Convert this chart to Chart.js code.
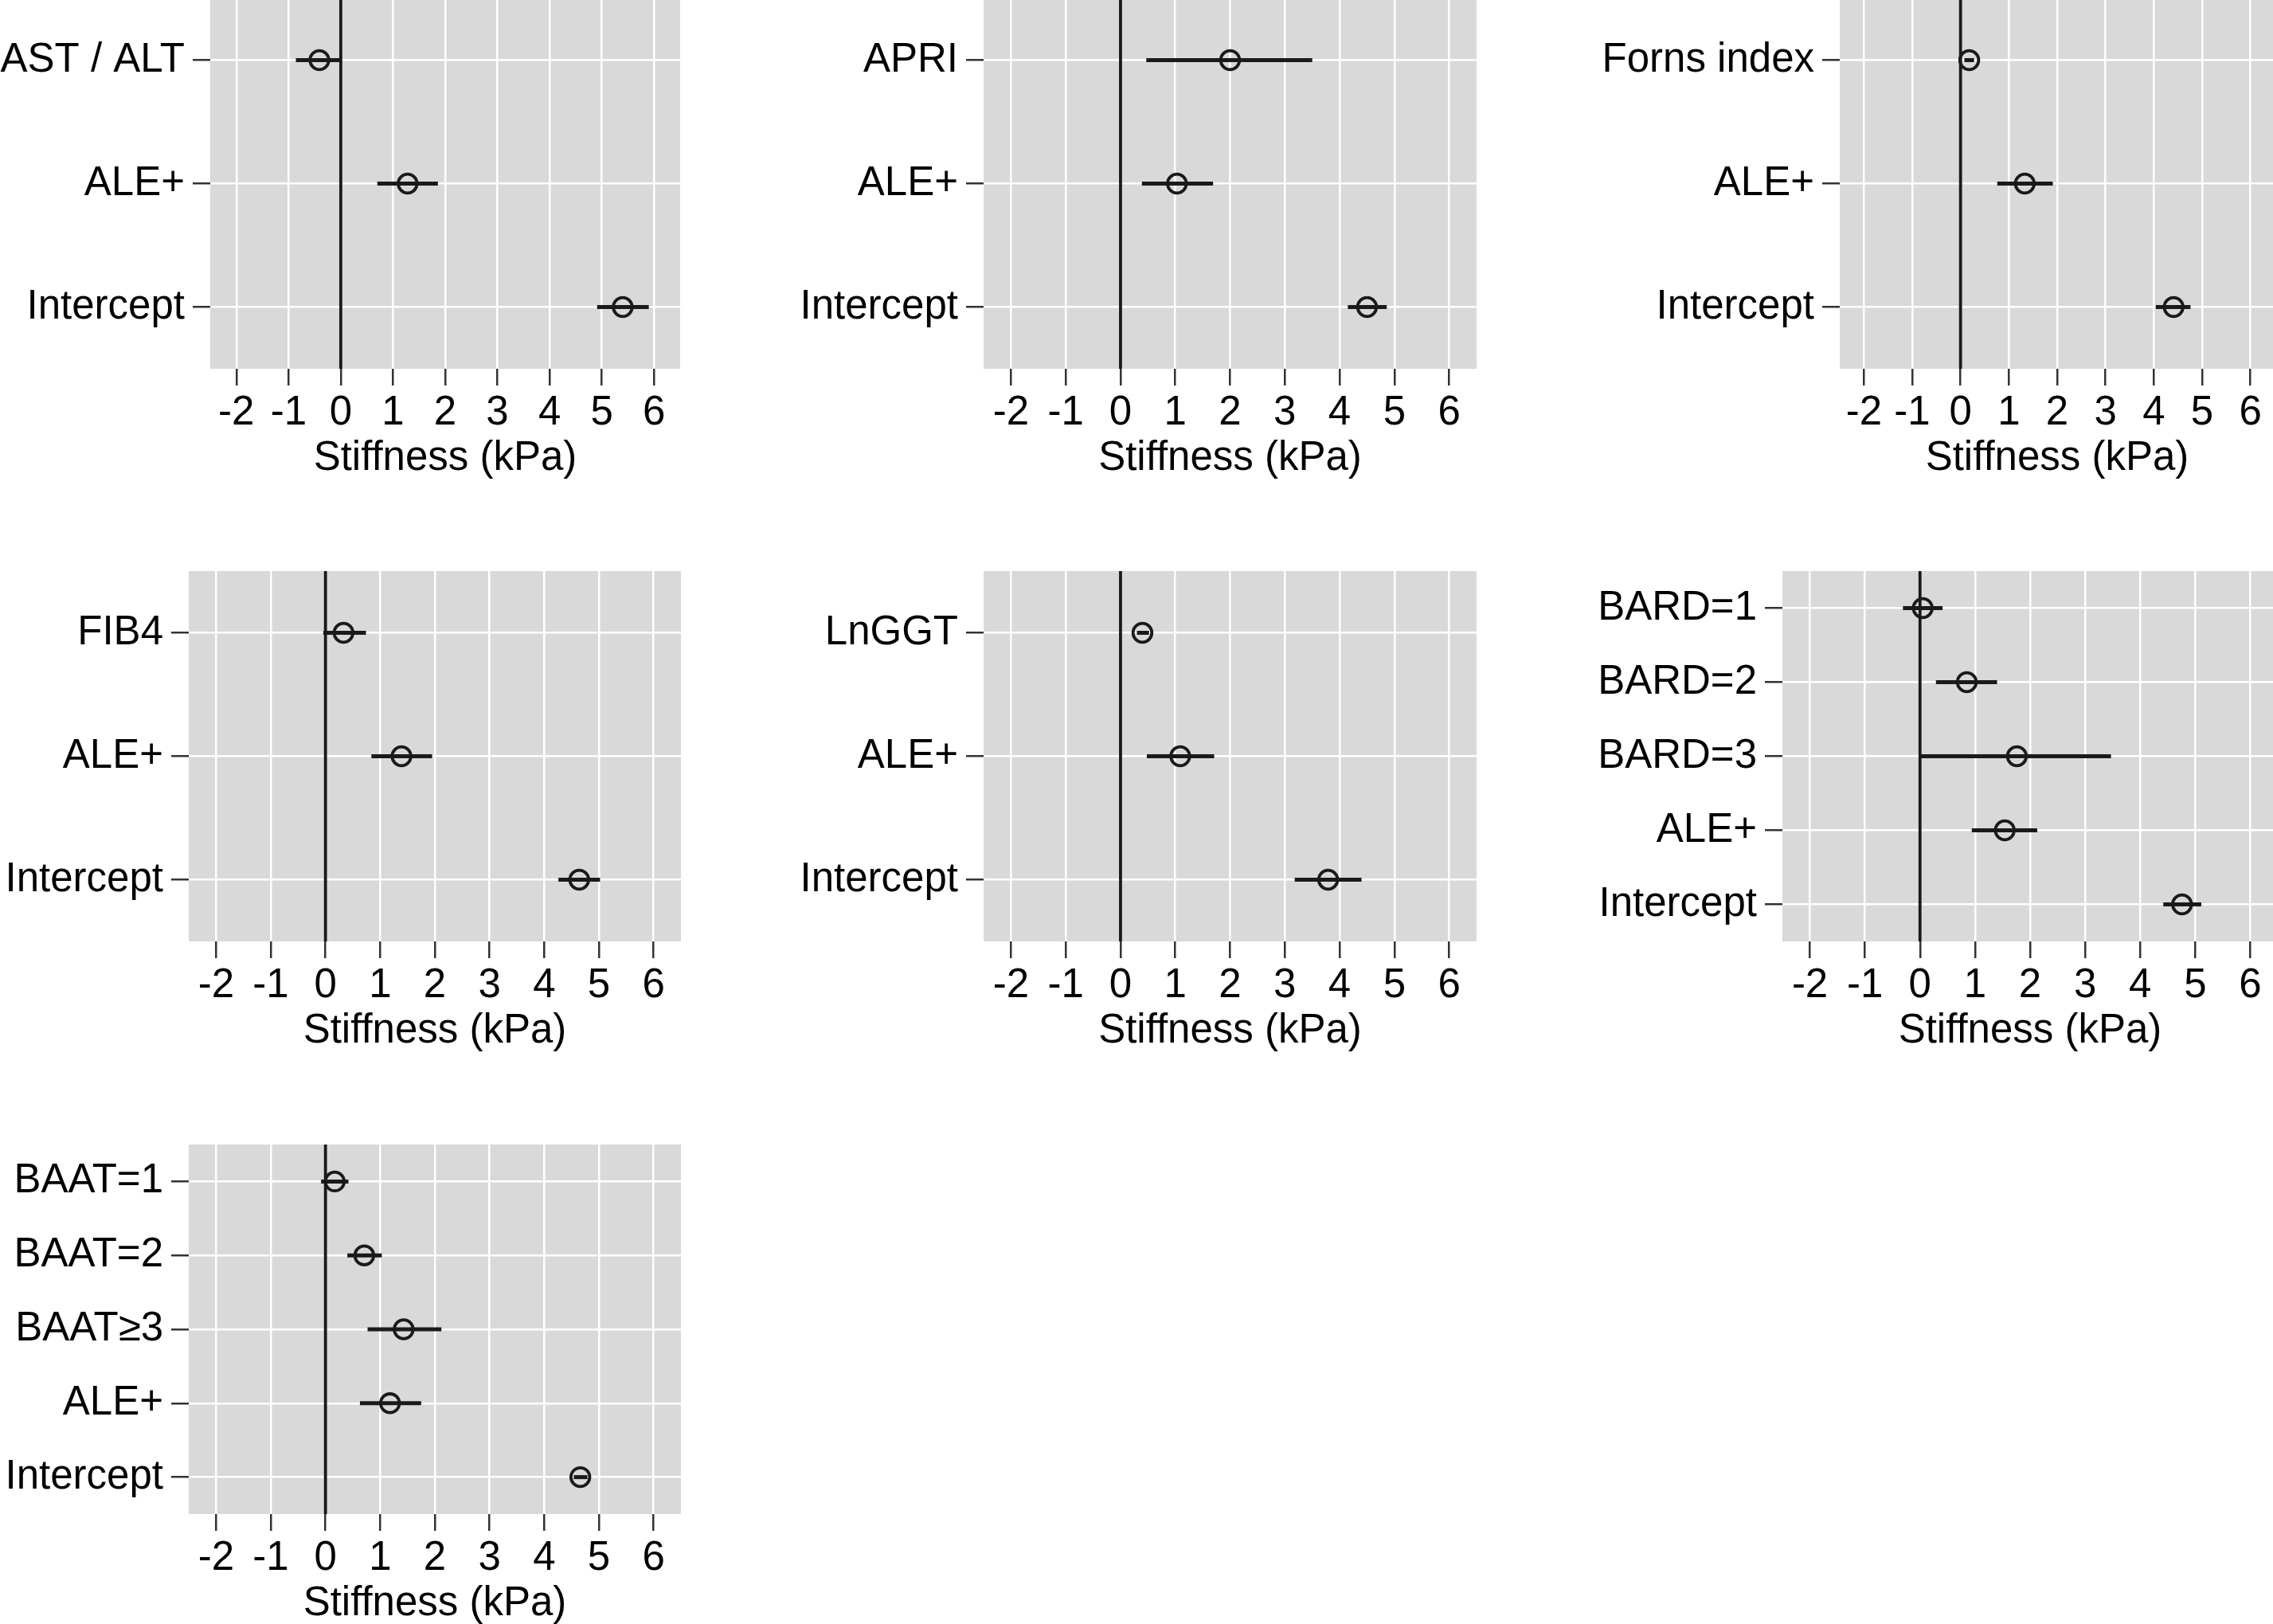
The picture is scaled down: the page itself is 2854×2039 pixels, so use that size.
<!DOCTYPE html>
<html>
<head>
<meta charset="utf-8">
<script src="https://cdn.jsdelivr.net/npm/chart.js@4.4.1/dist/chart.umd.min.js"></script>
<style>
html,body{margin:0;padding:0;background:#fff;width:2854px;height:2039px;overflow:hidden;position:relative}
canvas{position:absolute}
</style>
</head>
<body>
<canvas id="c1"></canvas>
<canvas id="c2"></canvas>
<canvas id="c3"></canvas>
<canvas id="c4"></canvas>
<canvas id="c5"></canvas>
<canvas id="c6"></canvas>
<canvas id="c7"></canvas>
<script>
// ---- data ----
const xTicks = [-2, -1, 0, 1, 2, 3, 4, 5, 6];
const xTitle = "Stiffness (kPa)";

const p1Labels = ["AST / ALT", "ALE+", "Intercept"];
const p1Est = [-0.41, 1.28, 5.40];
const p1Lo  = [-0.86, 0.70, 4.91];
const p1Hi  = [0.00, 1.86, 5.90];

const p2Labels = ["APRI", "ALE+", "Intercept"];
const p2Est = [2.00, 1.03, 4.50];
const p2Lo  = [0.47, 0.39, 4.15];
const p2Hi  = [3.50, 1.69, 4.86];

const p3Labels = ["Forns index", "ALE+", "Intercept"];
const p3Est = [0.18, 1.33, 4.41];
const p3Lo  = [0.08, 0.76, 4.04];
const p3Hi  = [0.28, 1.91, 4.76];

const p4Labels = ["FIB4", "ALE+", "Intercept"];
const p4Est = [0.33, 1.39, 4.64];
const p4Lo  = [-0.04, 0.84, 4.26];
const p4Hi  = [0.74, 1.95, 5.02];

const p5Labels = ["LnGGT", "ALE+", "Intercept"];
const p5Est = [0.40, 1.09, 3.79];
const p5Lo  = [0.30, 0.48, 3.18];
const p5Hi  = [0.52, 1.71, 4.40];

const p6Labels = ["BARD=1", "BARD=2", "BARD=3", "ALE+", "Intercept"];
const p6Est = [0.05, 0.85, 1.76, 1.54, 4.76];
const p6Lo  = [-0.31, 0.29, 0.00, 0.94, 4.42];
const p6Hi  = [0.41, 1.40, 3.47, 2.13, 5.11];

const p7Labels = ["BAAT=1", "BAAT=2", "BAAT\u22653", "ALE+", "Intercept"];
const p7Est = [0.17, 0.71, 1.43, 1.18, 4.66];
const p7Lo  = [-0.08, 0.40, 0.77, 0.63, 4.54];
const p7Hi  = [0.42, 1.03, 2.12, 1.75, 4.79];

// ---- style / layout ----
const FONT = '"Liberation Sans", Arial, Helvetica, sans-serif';
Chart.defaults.font.family = FONT;
const AXIS_H = 146;

const bgPlugin = {
  id: 'panelBg',
  beforeDraw(chart) {
    const {ctx, chartArea} = chart;
    ctx.save();
    ctx.fillStyle = '#D9D9D9';
    ctx.fillRect(chartArea.left, chartArea.top, chartArea.right - chartArea.left, chartArea.bottom - chartArea.top);
    ctx.restore();
  }
};

function makePanel(id, labels, est, lo, hi, box) {
  const cv = document.getElementById(id);
  const W = box.plotRight - box.L;
  const H = box.plotH + AXIS_H;
  cv.width = W; cv.height = H;
  cv.style.width = W + 'px'; cv.style.height = H + 'px';
  cv.style.left = box.L + 'px'; cv.style.top = box.T + 'px';

  const datasets = [];
  datasets.push({
    type: 'scatter',
    data: est.map((v, i) => ({x: v, y: i})),
    pointRadius: 11.8,
    pointHoverRadius: 11.8,
    borderWidth: 3.8,
    borderColor: '#1a1a1a',
    backgroundColor: 'rgba(0,0,0,0)',
    showLine: false
  });
  labels.forEach((_, i) => {
    datasets.push({
      type: 'line',
      data: [{x: lo[i], y: i}, {x: hi[i], y: i}],
      borderColor: '#1a1a1a',
      borderWidth: 5,
      borderCapStyle: 'butt',
      pointRadius: 0,
      fill: false
    });
  });
  datasets.push({
    type: 'line',
    data: [{x: 0, y: -0.5}, {x: 0, y: labels.length - 0.5}],
    borderColor: '#1a1a1a',
    borderWidth: 3.8,
    pointRadius: 0,
    fill: false
  });

  new Chart(cv, {
    type: 'scatter',
    data: {datasets},
    plugins: [bgPlugin],
    options: {
      responsive: false,
      animation: false,
      events: [],
      layout: {padding: 0, autoPadding: false},
      plugins: {legend: {display: false}, tooltip: {enabled: false}},
      scales: {
        x: {
          type: 'linear',
          min: -2.5, max: 6.5,
          afterBuildTicks: s => { s.ticks = xTicks.map(v => ({value: v})); },
          afterFit: s => { s.height = AXIS_H; s.paddingLeft = 0; s.paddingRight = 0; },
          ticks: {
            font: {size: 51}, color: '#000', padding: 4,
            callback: v => String(v), autoSkip: false, maxRotation: 0
          },
          grid: {color: '#ffffff', lineWidth: 2.5, tickLength: 21, tickColor: '#333333', tickWidth: 2.5},
          border: {display: false},
          title: {display: true, text: xTitle, font: {size: 51}, color: '#000', padding: {top: 0, bottom: 2}}
        },
        y: {
          type: 'linear',
          reverse: true,
          min: -0.5, max: labels.length - 0.5,
          afterBuildTicks: s => { s.ticks = labels.map((_, i) => ({value: i})); },
          afterFit: s => { s.width = box.plotLeft - box.L; s.paddingTop = 0; s.paddingBottom = 0; },
          ticks: {
            font: {size: 51}, color: '#000', padding: 10, autoSkip: false,
            callback: (v) => labels[Math.round(v)]
          },
          grid: {color: '#ffffff', lineWidth: 2.5, tickLength: 22, tickColor: '#333333', tickWidth: 2.5},
          border: {display: false}
        }
      }
    }
  });
}

makePanel('c1', p1Labels, p1Est, p1Lo, p1Hi, {L: 0,    T: -2,   plotLeft: 264,  plotRight: 854,  plotH: 465});
makePanel('c2', p2Labels, p2Est, p2Lo, p2Hi, {L: 940,  T: -2,   plotLeft: 1235, plotRight: 1854, plotH: 465});
makePanel('c3', p3Labels, p3Est, p3Lo, p3Hi, {L: 1900, T: -2,   plotLeft: 2310, plotRight: 2856, plotH: 465});
makePanel('c4', p4Labels, p4Est, p4Lo, p4Hi, {L: 0,    T: 717,  plotLeft: 237,  plotRight: 855,  plotH: 465});
makePanel('c5', p5Labels, p5Est, p5Lo, p5Hi, {L: 940,  T: 717,  plotLeft: 1235, plotRight: 1854, plotH: 465});
makePanel('c6', p6Labels, p6Est, p6Lo, p6Hi, {L: 1900, T: 717,  plotLeft: 2238, plotRight: 2860, plotH: 465});
makePanel('c7', p7Labels, p7Est, p7Lo, p7Hi, {L: 0,    T: 1437, plotLeft: 237,  plotRight: 855,  plotH: 464});
</script>
</body>
</html>
